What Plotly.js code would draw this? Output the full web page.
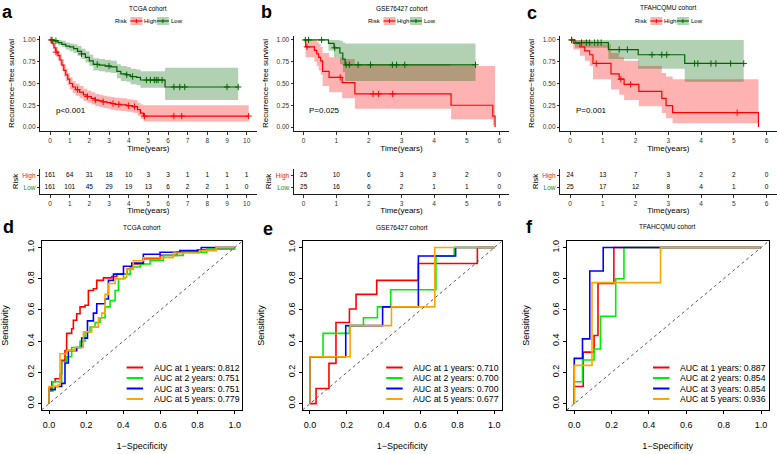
<!DOCTYPE html>
<html><head><meta charset="utf-8">
<script src="https://cdn.plot.ly/plotly-3.0.1.min.js"></script>
<style>body{margin:0;padding:0;background:#fff}</style>
</head><body><div id="chart" style="width:777px;height:454px"></div>
<script>
// ---------------- DATA ----------------
// Panel a: TCGA KM
const aHighT = [0,0.1,0.2,0.3,0.4,0.5,0.6,0.7,0.8,0.9,1.0,1.15,1.3,1.5,1.7,1.9,2.1,2.3,2.5,2.7,2.9,3.1,3.3,3.6,3.9,4.2,4.45,4.6,4.75,10.1];
const aHighS = [1,0.96,0.91,0.86,0.82,0.77,0.71,0.65,0.60,0.55,0.50,0.46,0.43,0.40,0.37,0.35,0.33,0.31,0.30,0.29,0.28,0.27,0.26,0.255,0.245,0.235,0.20,0.16,0.126,0.126];
const aHighL = [1,0.93,0.87,0.81,0.76,0.71,0.65,0.58,0.53,0.48,0.43,0.39,0.36,0.33,0.30,0.28,0.26,0.24,0.23,0.22,0.21,0.20,0.19,0.185,0.175,0.165,0.13,0.095,0.065,0.065];
const aHighU = [1,0.99,0.96,0.92,0.88,0.84,0.78,0.72,0.67,0.62,0.57,0.53,0.50,0.47,0.44,0.42,0.40,0.38,0.37,0.36,0.35,0.345,0.335,0.33,0.32,0.31,0.28,0.26,0.25,0.25];
const aHighCens = [0.05,0.3,1.4,1.9,2.3,2.7,3.2,3.5,4.0,4.3,4.8,6.3,6.7,10.1];
const aLowT = [0,0.2,0.4,0.6,0.8,1.0,1.2,1.4,1.6,1.8,2.0,2.2,2.5,2.8,3.1,3.4,3.6,3.9,4.1,4.4,4.6,5.85,9.57];
const aLowS = [1,0.99,0.97,0.95,0.93,0.92,0.90,0.87,0.84,0.80,0.76,0.72,0.71,0.70,0.69,0.64,0.61,0.60,0.58,0.57,0.54,0.46,0.46];
const aLowL = [1,0.97,0.94,0.92,0.89,0.87,0.85,0.82,0.78,0.74,0.70,0.65,0.64,0.63,0.62,0.56,0.53,0.52,0.49,0.48,0.45,0.31,0.31];
const aLowU = [1,1,1,0.99,0.97,0.96,0.95,0.93,0.90,0.87,0.83,0.79,0.78,0.77,0.76,0.72,0.70,0.69,0.67,0.66,0.64,0.68,0.68];
const aLowCens = [0.1,0.3,1.6,2.4,3.0,3.9,4.2,4.9,5.1,5.3,5.4,5.5,5.7,6.3,6.6,6.85,9.0,9.57];
// Panel b: GSE76427 KM
const bHighT = [0,0.06,0.33,0.40,0.46,0.52,0.58,0.78,1.18,1.57,4.52,5.8,5.87];
const bHighS = [1,0.92,0.88,0.84,0.80,0.76,0.64,0.57,0.51,0.38,0.25,0.125,0];
const bHighL = [1,0.80,0.75,0.70,0.65,0.60,0.47,0.40,0.33,0.21,0.09,0.02,0];
const bHighU = [1,1,1,0.98,0.95,0.92,0.85,0.80,0.78,0.72,0.70,0.70,0.70];
const bHighCens = [0.1,1.12,2.13,2.3,2.73];
const bLowT = [0,0.76,0.93,1.11,1.20,1.27,5.27];
const bLowS = [1,0.96,0.91,0.85,0.78,0.715,0.715];
const bLowL = [1,0.88,0.80,0.72,0.63,0.53,0.53];
const bLowU = [1,1,1,0.99,0.97,0.96,0.96];
const bLowCens = [0.05,0.15,0.55,0.95,1.3,1.4,1.67,2.05,2.72,2.85,3.1,5.27];
// Panel c: TFAHCQMU KM
const cHighT = [0,0.1,0.3,0.45,0.6,0.7,1.25,1.5,1.65,2.1,2.8,2.93,3.13,5.75];
const cHighS = [1,0.96,0.92,0.875,0.83,0.73,0.61,0.55,0.49,0.41,0.33,0.245,0.165,0];
const cHighL = [1,0.89,0.82,0.76,0.70,0.55,0.43,0.37,0.31,0.24,0.16,0.10,0.045,0.045];
const cHighU = [1,1,1,1,0.98,0.95,0.85,0.80,0.76,0.70,0.62,0.58,0.55,0.55];
const cHighCens = [0.05,0.8,1.55,1.85,5.1];
const cLowT = [0,0.15,1.17,2.08,3.5,5.3];
const cLowS = [1,0.97,0.89,0.83,0.73,0.73];
const cLowL = [1,0.91,0.78,0.67,0.52,0.52];
const cLowU = [1,1,1,1,1,1];
const cLowCens = [0.05,0.35,0.5,0.6,0.75,0.85,0.95,1.5,1.75,2.5,2.8,2.95,3.8,3.9,4.3,4.45,4.9,5.3];
// Risk tables
const aRiskT = [0,1,2,3,4,5,6,7,8,9,10];
const aRiskHigh = [161,64,31,18,10,3,3,1,1,1,1];
const aRiskLow = [161,101,45,29,19,13,6,2,2,1,0];
const bRiskT = [0,1,2,3,4,5,6];
const bRiskHigh = [25,10,6,3,3,2,0];
const bRiskLow = [25,16,6,2,1,1,0];
const cRiskT = [0,1,2,3,4,5,6];
const cRiskHigh = [24,13,7,3,2,2,0];
const cRiskLow = [25,17,12,8,4,1,0];
const pTexts = ['p<0.001','P=0.025','P=0.001'];
const cohorts = ['TCGA cohort','GSE76427 cohort','TFAHCQMU cohort'];
// ROC d: TCGA
const dFpr1 = [0,0,0.015,0.033,0.059,0.068,0.086,0.095,0.122,0.131,0.149,0.167,0.194,0.212,0.239,0.257,0.293,0.338,0.365,0.42,0.454,0.508,0.598,0.69,0.8,0.9,1.0];
const dSen1 = [0,0.10,0.14,0.16,0.19,0.278,0.34,0.45,0.48,0.534,0.576,0.62,0.63,0.725,0.736,0.79,0.806,0.815,0.83,0.863,0.895,0.928,0.95,0.97,0.985,1.0,1.0];
const dFpr2 = [0,0,0.02,0.068,0.095,0.122,0.167,0.194,0.221,0.248,0.275,0.302,0.329,0.356,0.374,0.401,0.437,0.491,0.544,0.616,0.723,0.85,1.0];
const dSen2 = [0,0.08,0.14,0.27,0.30,0.36,0.40,0.46,0.49,0.52,0.55,0.62,0.66,0.725,0.80,0.83,0.875,0.895,0.918,0.95,0.97,0.99,1.0];
const dFpr3 = [0,0,0.033,0.068,0.086,0.104,0.149,0.176,0.207,0.239,0.257,0.302,0.32,0.347,0.401,0.446,0.508,0.598,0.705,0.82,1.0];
const dSen3 = [0,0.09,0.11,0.13,0.26,0.34,0.36,0.42,0.53,0.58,0.64,0.67,0.79,0.83,0.88,0.90,0.957,0.97,0.98,1.0,1.0];
const dFpr5 = [0,0,0.05,0.059,0.095,0.14,0.185,0.23,0.266,0.284,0.302,0.32,0.356,0.41,0.418,0.454,0.508,0.562,0.67,0.81,0.9,1.0];
const dSen5 = [0,0.11,0.12,0.32,0.34,0.36,0.46,0.49,0.55,0.58,0.70,0.77,0.80,0.81,0.86,0.915,0.935,0.935,0.965,0.98,1.0,1.0];
const dAUC = ['0.812','0.751','0.751','0.779'];
// ROC e: GSE76427
const eFpr1 = [0,0.033,0.103,0.141,0.214,0.25,0.362,0.588,0.908,1.0];
const eSen1 = [0,0.097,0.258,0.52,0.606,0.70,0.79,0.898,1.0,1.0];
const eFpr2 = [0,0,0.071,0.214,0.29,0.366,0.438,0.683,0.782,1.0];
const eSen2 = [0,0.30,0.45,0.50,0.55,0.62,0.73,0.946,1.0,1.0];
const eFpr3 = [0,0,0.194,0.394,0.588,0.79,1.0];
const eSen3 = [0,0.30,0.50,0.62,0.946,1.0,1.0];
const eFpr5 = [0,0,0.218,0.442,0.677,1.0];
const eSen5 = [0,0.30,0.50,0.62,1.0,1.0];
const eAUC = ['0.710','0.700','0.700','0.677'];
// ROC f: TFAHCQMU
const fFpr1 = [0,0,0.048,0.106,0.127,0.212,1.0];
const fSen1 = [0,0.11,0.33,0.437,0.77,1.0,1.0];
const fFpr2 = [0,0,0.044,0.106,0.14,0.222,0.266,1.0];
const fSen2 = [0,0.14,0.28,0.35,0.56,0.80,1.0,1.0];
const fFpr3 = [0,0,0.044,0.083,0.155,1.0];
const fSen3 = [0,0.29,0.415,0.85,1.0,1.0];
const fFpr5 = [0,0,0.095,0.462,1.0];
const fSen5 = [0,0.245,0.775,1.0,1.0];
const fAUC = ['0.887','0.854','0.854','0.936'];
const rocYears = [1,2,3,5];

// ---------------- STYLE / LAYOUT ----------------
const FONT = 'Liberation Sans, Arial, Helvetica, sans-serif';
const W = 777, H = 454;
const px = v => v / W, py = v => 1 - v / H;
const RED = '#FF0000', GREEN = '#006400';
const RED_F = 'rgba(255,0,0,0.3)', GREEN_F = 'rgba(0,100,0,0.3)';
const ROC_COLS = ['#FF0000', '#00EE00', '#0000FF', '#FFA500'];
const KM_Y = [35.6, 131.4], TAB_Y = [168.7, 194.3], ROC_Y = [241.3, 409.9];
const KM_X = [[40.2, 256.5], [293.9, 509.1], [560.2, 776.5]];
const ROC_X = [[41.6, 242.1], [302.6, 501.7], [566.8, 768.5]];
const KM_RANGE = [[-0.5, 10.5], [-0.3, 6.3], [-0.3, 6.3]];

function survAt(T, S, t) { let v = S[0]; for (let i = 0; i < T.length; i++) if (T[i] <= t) v = S[i]; return v; }

const traces = [];
const kmSets = [
  {T1: aHighT, S1: aHighS, L1: aHighL, U1: aHighU, C1: aHighCens, T2: aLowT, S2: aLowS, L2: aLowL, U2: aLowU, C2: aLowCens},
  {T1: bHighT, S1: bHighS, L1: bHighL, U1: bHighU, C1: bHighCens, T2: bLowT, S2: bLowS, L2: bLowL, U2: bLowU, C2: bLowCens},
  {T1: cHighT, S1: cHighS, L1: cHighL, U1: cHighU, C1: cHighCens, T2: cLowT, S2: cLowS, L2: cLowL, U2: cLowU, C2: cLowCens}
];
kmSets.forEach((k, i) => {
  const xa = 'x' + (i === 0 ? '' : i + 1), ya = 'y' + (i === 0 ? '' : i + 1);
  const band = (T, L, U, fc) => {
    traces.push({x: T, y: L, xaxis: xa, yaxis: ya, mode: 'lines', line: {width: 0, shape: 'hv'}, hoverinfo: 'skip', showlegend: false});
    traces.push({x: T, y: U, xaxis: xa, yaxis: ya, mode: 'lines', fill: 'tonexty', fillcolor: fc, line: {width: 0, shape: 'hv'}, hoverinfo: 'skip', showlegend: false});
  };
  band(k.T1, k.L1, k.U1, RED_F);
  band(k.T2, k.L2, k.U2, GREEN_F);
  traces.push({x: k.T1, y: k.S1, xaxis: xa, yaxis: ya, mode: 'lines', line: {color: RED, width: 1.2, shape: 'hv'}, showlegend: false});
  traces.push({x: k.T2, y: k.S2, xaxis: xa, yaxis: ya, mode: 'lines', line: {color: GREEN, width: 1.2, shape: 'hv'}, showlegend: false});
  traces.push({x: k.C1, y: k.C1.map(t => survAt(k.T1, k.S1, t)), xaxis: xa, yaxis: ya, mode: 'markers',
    marker: {symbol: 'cross-thin', size: 4.5, line: {width: 1, color: RED}}, showlegend: false});
  traces.push({x: k.C2, y: k.C2.map(t => survAt(k.T2, k.S2, t)), xaxis: xa, yaxis: ya, mode: 'markers',
    marker: {symbol: 'cross-thin', size: 4.5, line: {width: 1, color: GREEN}}, showlegend: false});
});

// risk tables
const riskSets = [[aRiskT, aRiskHigh, aRiskLow], [bRiskT, bRiskHigh, bRiskLow], [cRiskT, cRiskHigh, cRiskLow]];
riskSets.forEach((r, i) => {
  const n = i + 4;
  traces.push({x: r[0], y: r[0].map(() => 2), text: r[1].map(String), mode: 'text', xaxis: 'x' + n, yaxis: 'y' + n,
    textfont: {family: FONT, size: 6.5, color: '#000'}, showlegend: false, hoverinfo: 'skip'});
  traces.push({x: r[0], y: r[0].map(() => 1), text: r[2].map(String), mode: 'text', xaxis: 'x' + n, yaxis: 'y' + n,
    textfont: {family: FONT, size: 6.5, color: '#000'}, showlegend: false, hoverinfo: 'skip'});
});

// ROC
const rocSets = [
  [[dFpr1, dSen1], [dFpr2, dSen2], [dFpr3, dSen3], [dFpr5, dSen5]],
  [[eFpr1, eSen1], [eFpr2, eSen2], [eFpr3, eSen3], [eFpr5, eSen5]],
  [[fFpr1, fSen1], [fFpr2, fSen2], [fFpr3, fSen3], [fFpr5, fSen5]]
];
const rocAUC = [dAUC, eAUC, fAUC];
rocSets.forEach((set, i) => {
  const n = i + 7;
  set.forEach((c, j) => {
    traces.push({x: c[0], y: c[1], xaxis: 'x' + n, yaxis: 'y' + n, mode: 'lines',
      line: {color: ROC_COLS[j], width: 1.6, shape: 'hv'}, showlegend: false});
  });
});

const layout = {width: W, height: H, margin: {l: 0, r: 0, t: 0, b: 0}, paper_bgcolor: '#fff', plot_bgcolor: 'rgba(0,0,0,0)',
  font: {family: FONT, color: '#000'}, showlegend: false, annotations: [], shapes: []};

const tf = (s, c) => ({family: FONT, size: s, color: c || '#000'});
for (let i = 0; i < 3; i++) {
  const sfx = i === 0 ? '' : String(i + 1);
  const dom = KM_X[i];
  layout['xaxis' + sfx] = {domain: [px(dom[0]), px(dom[1])], range: KM_RANGE[i], anchor: 'y' + sfx,
    showline: true, linecolor: '#000', linewidth: 0.9, ticks: 'outside', ticklen: 2.5, tickwidth: 0.8, tickcolor: '#000',
    tick0: 0, dtick: 1, tickfont: tf(6.5, '#333'), showgrid: false, zeroline: false, automargin: false, fixedrange: true,
    title: {text: 'Time(years)', font: tf(8), standoff: 1}};
  layout['yaxis' + sfx] = {domain: [py(KM_Y[1]), py(KM_Y[0])], range: [-0.05, 1.05], anchor: 'x' + sfx,
    showline: true, linecolor: '#000', linewidth: 0.9, ticks: 'outside', ticklen: 2.5, tickwidth: 0.8, tickcolor: '#000',
    tickvals: [0, 0.25, 0.5, 0.75, 1], tickformat: '.2f', tickfont: tf(6.5, '#333'), showgrid: false, zeroline: false,
    automargin: false, fixedrange: true, title: {text: 'Recurrence\u2212free survival', font: tf(8), standoff: 6}};
  const n = i + 4;
  layout['xaxis' + n] = {domain: [px(dom[0]), px(dom[1])], range: KM_RANGE[i], anchor: 'y' + n,
    showline: true, linecolor: '#000', linewidth: 0.9, ticks: 'outside', ticklen: 2.5, tickwidth: 0.8, tickcolor: '#000',
    tick0: 0, dtick: 1, tickfont: tf(6.5, '#333'), showgrid: false, zeroline: false, automargin: false, fixedrange: true,
    title: {text: 'Time(years)', font: tf(8), standoff: 1}};
  layout['yaxis' + n] = {domain: [py(TAB_Y[1]), py(TAB_Y[0])], range: [0.4, 2.6], anchor: 'x' + n,
    showline: true, linecolor: '#000', linewidth: 0.9, ticks: 'outside', ticklen: 2.5, tickwidth: 0.8, tickcolor: '#000',
    tickvals: [1, 2], ticktext: ['<span style="color:#1E8C1E">Low</span>', '<span style="color:#FF2020">High</span>'],
    tickfont: tf(6.5), showgrid: false, zeroline: false, automargin: false, fixedrange: true,
    title: {text: 'Risk', font: tf(8), standoff: 2}};
  const m = i + 7;
  const rd = ROC_X[i];
  layout['xaxis' + m] = {domain: [px(rd[0]), px(rd[1])], range: [-0.04, 1.04], anchor: 'y' + m,
    showline: true, mirror: true, linecolor: '#000', linewidth: 1, ticks: 'outside', ticklen: 3.5, tickwidth: 1, tickcolor: '#000',
    tickvals: [0, 0.2, 0.4, 0.6, 0.8, 1], tickformat: '.1f', tickfont: tf(9), ticklabelstandoff: 3,
    showgrid: false, zeroline: false, automargin: false, fixedrange: true,
    title: {text: '1\u2212Specificity', font: tf(9), standoff: 13}};
  layout['yaxis' + m] = {domain: [py(ROC_Y[1]), py(ROC_Y[0])], range: [-0.04, 1.04], anchor: 'x' + m,
    showline: true, mirror: true, linecolor: '#000', linewidth: 1, ticks: 'outside', ticklen: 3, tickwidth: 1, tickcolor: '#000',
    tickvals: [0, 0.2, 0.4, 0.6, 0.8, 1], tickformat: '.1f', tickfont: tf(9), tickangle: -90,
    showgrid: false, zeroline: false, automargin: false, fixedrange: true,
    title: {text: 'Sensitivity', font: tf(9), standoff: 20}};
  // diagonal reference
  layout.shapes.push({type: 'line', xref: 'x' + m, yref: 'y' + m, x0: -0.04, y0: -0.04, x1: 1.04, y1: 1.04,
    line: {color: '#555', width: 1, dash: 'dot'}});
  // titles
  const kc = (dom[0] + dom[1]) / 2;
  layout.annotations.push({text: cohorts[i], x: px(kc), y: py(8), xref: 'paper', yref: 'paper', showarrow: false,
    xanchor: 'center', yanchor: 'middle', font: tf(6.5)});
  const rc = (rd[0] + rd[1]) / 2;
  layout.annotations.push({text: cohorts[i], x: px(rc), y: py(227), xref: 'paper', yref: 'paper', showarrow: false,
    xanchor: 'center', yanchor: 'middle', font: tf(6.5)});
  // KM legend
  const ly = 21;
  layout.annotations.push({text: 'Risk', x: px(kc - 27), y: py(ly), xref: 'paper', yref: 'paper', showarrow: false, xanchor: 'center', yanchor: 'middle', font: tf(6)});
  layout.annotations.push({text: 'High', x: px(kc + 1.5), y: py(ly), xref: 'paper', yref: 'paper', showarrow: false, xanchor: 'center', yanchor: 'middle', font: tf(6)});
  layout.annotations.push({text: 'Low', x: px(kc + 28.5), y: py(ly), xref: 'paper', yref: 'paper', showarrow: false, xanchor: 'center', yanchor: 'middle', font: tf(6)});
  [[-12, RED, RED_F], [14.5, GREEN, GREEN_F]].forEach(([off, col, fc]) => {
    const c = kc + off;
    layout.shapes.push({type: 'rect', xref: 'paper', yref: 'paper', x0: px(c - 6), x1: px(c + 6), y0: py(ly + 4), y1: py(ly - 4), fillcolor: fc, line: {width: 0}});
    layout.shapes.push({type: 'line', xref: 'paper', yref: 'paper', x0: px(c - 6), x1: px(c + 6), y0: py(ly), y1: py(ly), line: {color: col, width: 1.2}});
    layout.shapes.push({type: 'line', xref: 'paper', yref: 'paper', x0: px(c), x1: px(c), y0: py(ly + 2), y1: py(ly - 2), line: {color: col, width: 1}});
  });
  // p value
  layout.annotations.push({text: pTexts[i], x: i === 0 ? 0.2 : (i === 1 ? 0.1 : 0.13), y: 0.195, xref: 'x' + sfx, yref: 'y' + sfx,
    showarrow: false, xanchor: 'left', yanchor: 'middle', font: tf(8)});
  // ROC legend
  const R = rd[1];
  const rows = [367.5, 378, 388.5, 399];
  rows.forEach((yy, j) => {
    layout.shapes.push({type: 'line', xref: 'paper', yref: 'paper', x0: px(R - 115.5), x1: px(R - 99), y0: py(yy), y1: py(yy),
      line: {color: ROC_COLS[j], width: 2}});
    layout.annotations.push({text: 'AUC at ' + rocYears[j] + ' years: ' + rocAUC[i][j], x: px(R - 90.5), y: py(yy),
      xref: 'paper', yref: 'paper', showarrow: false, xanchor: 'left', yanchor: 'middle', font: tf(8.7)});
  });
}
// panel letters
[['a', 7, 0.5, 'top'], ['b', 266, 0.5, 'top'], ['c', 532, 1, 'top'], ['d', 8, 227, 'middle'], ['e', 268, 229, 'middle'], ['f', 529, 227, 'middle']].forEach(([t, x, y, ya]) => {
  layout.annotations.push({text: '<b>' + t + '</b>', x: px(x), y: py(y), xref: 'paper', yref: 'paper', showarrow: false,
    xanchor: 'center', yanchor: ya, font: tf(18)});
});

Plotly.newPlot('chart', traces, layout, {staticPlot: true, displayModeBar: false});
</script></body></html>
